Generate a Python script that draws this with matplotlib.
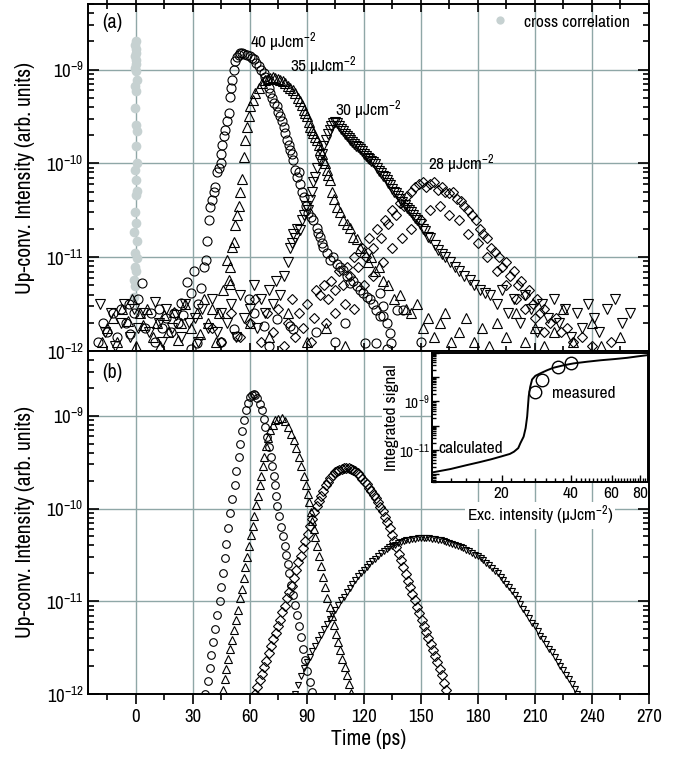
import numpy as np
import matplotlib
matplotlib.use("Agg")
import matplotlib.pyplot as plt
from matplotlib import font_manager
from matplotlib.ticker import FixedLocator, LogLocator, NullFormatter, FixedFormatter

names = {f.name for f in font_manager.fontManager.ttflist}
cands = ['Liberation Sans Narrow', 'Arial Narrow', 'Archivo Narrow', 'PT Sans Narrow',
         'Roboto Condensed', 'Liberation Sans']
FAM = next(c for c in cands if c in names)
plt.rcParams['font.family'] = [FAM, 'DejaVu Sans']
plt.rcParams['mathtext.fontset'] = 'custom'
plt.rcParams['mathtext.rm'] = FAM
plt.rcParams['mathtext.it'] = FAM
plt.rcParams['mathtext.bf'] = FAM

# ---------------- data: (time ps, log10 intensity) ----------------
cross_corr = [(0, -8.70), (-0.3, -8.74), (0, -8.78), (0.3, -8.82), (-0.2, -8.86), (0, -8.90),
              (0.2, -8.94), (-0.3, -8.98), (0, -9.02), (0.5, -9.11), (-0.5, -9.18), (0.3, -9.23),
              (-0.4, -9.41), (0, -9.59), (0.5, -9.66), (0, -9.82), (0.4, -10.0), (-0.5, -10.07),
              (0.3, -10.18), (0.6, -10.29), (0, -10.34), (-0.6, -10.52), (0.3, -10.64),
              (-0.8, -10.73), (0.5, -10.83), (-0.5, -10.96), (0.8, -11.01), (-0.6, -11.10),
              (0.3, -11.15), (-1.0, -11.24), (-0.5, -11.31), (-1.2, -11.42)]

a_40 = [(-20, -11.9), (-17, -11.7), (-15, -11.8), (-12, -11.6), (-10, -11.85), (-8, -11.55),
        (-5.2, -11.70), (-3.5, -11.50), (-3, -11.82), (-1, -11.6), (1, -11.45), (3.5, -11.27),
        (5, -11.75), (8, -11.6), (10, -11.9), (12, -11.55), (14, -11.75), (16, -11.65),
        (18.4, -11.80), (20, -11.6), (22, -11.7), (23.6, -11.49), (25, -11.62), (27.1, -11.26),
        (28.8, -11.38), (28.8, -11.98), (30.6, -11.15), (32.3, -11.91), (33, -11.5), (34.1, -11.33),
        (35.8, -11.10), (36.7, -11.03), (37.6, -10.83), (38.5, -10.60), (39.3, -10.46),
        (40.2, -10.39), (41.0, -10.30), (41.9, -10.25), (42.8, -10.09), (43.7, -10.05),
        (44.6, -10.0), (45.0, -9.90), (45.5, -9.80), (46.3, -9.71), (47.2, -9.64), (48, -9.55),
        (49, -9.46), (49.8, -9.29), (50.2, -9.2), (50.7, -9.11), (51.6, -9.0), (52.4, -8.91),
        (53.2, -8.87), (54.2, -8.84), (55, -8.82), (55.9, -8.82), (57, -8.83), (58.6, -8.84),
        (60, -8.86), (61, -8.88), (62.1, -8.89), (63.5, -8.93), (64.7, -8.96), (66, -9.0),
        (67.3, -9.04), (68.2, -9.08), (69.1, -9.11), (70, -9.2), (70.8, -9.25), (71.6, -9.3),
        (72.6, -9.36), (74.3, -9.39), (75, -9.45), (76.1, -9.50), (77, -9.55), (77.8, -9.61),
        (78.6, -9.68), (79.5, -9.75), (80.4, -9.8), (81.3, -9.86), (82, -9.9), (83, -9.96),
        (83.9, -10.07), (84.8, -10.14), (85.7, -10.09), (86.5, -10.22), (87.4, -10.3),
        (88.3, -10.36), (89.5, -10.45), (90.9, -10.53), (92, -10.57), (93.5, -10.60),
        (95.3, -10.69), (96, -10.74), (97, -10.78), (98, -10.85), (98.8, -10.89), (100.5, -10.96),
        (102.3, -11.03), (104, -11.0), (105.8, -11.07), (107.5, -11.1), (109.3, -11.14),
        (111, -11.2), (112.8, -11.28), (114.5, -11.25), (116.3, -11.31), (118, -11.35),
        (119.8, -11.38), (120.6, -11.91), (121.5, -11.42), (123.3, -11.45), (125, -11.5),
        (126.7, -11.56), (126.7, -11.91), (128.5, -11.38), (128.5, -11.63), (130.2, -11.63),
        (130.3, -11.52), (132, -11.70), (132, -11.98), (133.7, -11.81), (134.6, -11.91),
        (137.3, -11.56), (140.7, -11.56), (51.6, -11.77), (53.3, -11.84), (59.4, -11.45),
        (62, -11.59), (67.3, -11.73), (74.3, -11.66), (81.3, -11.73), (83, -11.77), (45, -11.9),
        (70, -11.95), (95, -11.8), (105, -11.9), (110, -11.7), (150, -11.9)]

a_35 = [(-18, -11.9), (-15, -11.75), (-12, -11.65), (-10, -11.9), (-7, -11.55), (-4, -11.68),
        (-2, -11.45), (0, -11.95), (2, -11.6), (4, -11.72), (6, -11.55), (9, -11.85), (11, -11.7),
        (13, -11.95), (15, -11.62), (17, -11.8), (20, -11.58), (22, -11.88), (24, -11.7),
        (26, -11.5), (29, -11.75), (32, -11.6), (34, -11.82), (36, -11.45), (38, -11.7),
        (40, -11.55), (42, -11.9), (44, -11.6), (46, -11.35), (48.1, -11.03), (49, -11.24),
        (49.8, -11.10), (49.8, -11.29), (50.7, -10.89), (51.6, -10.84), (52.4, -10.66),
        (53.3, -10.55), (54.2, -10.45), (55.1, -10.31), (55.9, -10.17), (56.8, -9.93),
        (57.7, -9.75), (58.6, -9.61), (59.4, -9.50), (60.3, -9.39), (61.5, -9.32), (62.9, -9.25),
        (64.7, -9.20), (66.4, -9.14), (68.2, -9.11), (69.5, -9.10), (70.8, -9.09), (72, -9.08),
        (73.4, -9.09), (74.8, -9.10), (76.1, -9.11), (77.4, -9.12), (78.7, -9.14), (80, -9.17),
        (81.3, -9.20), (82.6, -9.22), (83.9, -9.25), (85.2, -9.3), (86.5, -9.34), (87.4, -9.38),
        (88.3, -9.43), (89.2, -9.46), (90, -9.50), (91, -9.56), (91.8, -9.61), (92.6, -9.64),
        (93.5, -9.68), (94.4, -9.72), (95.3, -9.75), (96.2, -9.8), (97, -9.86), (98, -9.9),
        (98.8, -9.96), (99.6, -10.0), (100.5, -10.07), (101.4, -10.12), (102.3, -10.18),
        (103.5, -10.3), (104.5, -10.38), (105.8, -10.46), (107.5, -10.52), (109.3, -10.60),
        (111, -10.65), (112.8, -10.69), (114.5, -10.78), (116.3, -10.81), (118, -10.9),
        (120, -10.95), (122, -11.05), (124, -11.0), (126, -11.15), (128, -11.1), (130, -11.25),
        (133, -11.3), (136, -11.45), (139, -11.4), (142, -11.55), (145, -11.6), (148, -11.5),
        (151, -11.75), (154, -11.65), (157, -11.85), (160, -11.7), (163, -11.6), (166, -11.9),
        (170, -11.8), (174, -11.65), (178, -11.9), (182, -11.75), (186, -11.95), (190, -11.7),
        (195, -11.85), (200, -11.6), (205, -11.9), (210, -11.75), (215, -11.95), (220, -11.8),
        (225, -11.55), (230, -11.9), (240, -11.7), (245, -11.95), (255, -11.85), (60, -11.7),
        (70, -11.85), (80, -11.6), (90, -11.9), (100, -11.75), (110, -11.95)]

a_30 = [(-19, -11.5), (-16, -11.8), (-13, -11.6), (-11, -11.95), (-8, -11.7), (-6, -11.5),
        (-3, -11.85), (-1, -11.55), (1, -11.75), (4, -11.6), (7, -11.8), (10, -11.48), (12, -11.7),
        (14, -11.9), (16, -11.55), (19, -11.75), (21, -11.62), (24, -11.85), (26, -11.5),
        (28, -11.7), (31, -11.65), (33, -11.9), (35, -11.55), (38, -11.75), (40, -11.45),
        (43, -11.8), (45, -11.6), (48, -11.7), (50, -11.5), (53, -11.85), (55, -11.4),
        (57, -11.65), (60, -11.55), (62, -11.3), (64, -11.75), (66, -11.45), (68, -11.6),
        (70, -11.35), (72, -11.5), (74, -11.25), (76, -11.4), (78, -11.2), (80, -11.05),
        (81, -10.9), (82, -10.85), (83, -10.75), (84, -10.8), (85, -10.7), (86.4, -10.71),
        (87.5, -10.6), (88.5, -10.55), (89.5, -10.45), (90.5, -10.5), (91.6, -10.39),
        (92.5, -10.3), (93.5, -10.2), (94.5, -10.15), (95.5, -10.05), (96.9, -9.96), (97.8, -9.9),
        (98.8, -9.82), (100, -9.75), (101, -9.69), (102, -9.64), (103, -9.6), (104, -9.57),
        (104.8, -9.56), (105.8, -9.57), (106.8, -9.6), (108, -9.63), (109, -9.66), (110, -9.69),
        (111, -9.71), (112, -9.73), (113, -9.75), (114, -9.77), (115, -9.79), (116, -9.81),
        (117, -9.83), (117.9, -9.85), (119, -9.87), (120, -9.9), (121, -9.92), (122, -9.94),
        (123, -9.95), (124, -9.97), (125, -9.99), (125.9, -10.01), (127, -10.05), (128, -10.08),
        (129, -10.1), (130, -10.13), (131, -10.15), (132, -10.18), (133, -10.21), (133.8, -10.23),
        (135, -10.27), (136, -10.3), (137, -10.32), (138, -10.35), (139, -10.38), (140, -10.41),
        (141.6, -10.44), (143, -10.48), (144, -10.5), (145, -10.52), (146, -10.55), (147, -10.58),
        (148, -10.6), (149.6, -10.65), (151, -10.7), (152, -10.72), (154, -10.78), (155, -10.8),
        (157.5, -10.87), (159, -10.92), (161, -10.97), (163, -11.0), (165.3, -11.05), (168, -11.1),
        (170, -11.15), (173, -11.2), (175.9, -11.24), (178, -11.3), (181, -11.35), (184, -11.38),
        (186.4, -11.40), (190, -11.5), (193, -11.35), (196, -11.6), (199, -11.45), (202, -11.7),
        (205, -11.4), (208, -11.55), (211, -11.8), (214, -11.5), (217, -11.65), (220, -11.45),
        (223, -11.7), (226, -11.55), (229, -11.85), (232, -11.6), (235, -11.75), (238, -11.5),
        (241, -11.65), (244, -11.8), (248, -11.55), (252, -11.45), (256, -11.7), (260, -11.6)]

a_28 = [(40, -11.75), (45, -11.9), (50, -11.6), (55, -11.85), (60, -11.7), (63, -11.45), (66, -11.9),
        (69, -11.6), (72, -11.8), (75, -11.55), (78, -11.95), (80, -11.7), (82, -11.45), (84, -11.85),
        (86, -11.6), (88, -11.75), (90, -11.5), (92, -11.9), (94, -11.65), (95, -11.35), (97, -11.4),
        (99, -11.3), (101, -11.45), (103, -11.25), (105, -11.35), (107, -11.15), (109, -11.3),
        (111, -11.1), (113, -11.2), (115, -11.0), (117, -11.1), (119, -10.9), (121, -11.0),
        (123, -10.8), (125, -10.9), (127, -10.7), (129, -10.8), (131, -10.6), (133, -10.65),
        (135, -10.5), (137, -10.55), (139, -10.42), (141, -10.45), (143, -10.35), (145, -10.3),
        (147, -10.25), (149, -10.22), (151, -10.2), (153, -10.25), (155, -10.22), (157, -10.2),
        (159, -10.28), (161, -10.25), (163, -10.3), (165, -10.32), (167, -10.3), (169, -10.38),
        (171, -10.4), (173, -10.45), (175, -10.5), (177, -10.55), (179, -10.6), (181, -10.7),
        (183, -10.75), (185, -10.8), (187, -10.9), (189, -10.95), (191, -11.0), (193, -11.1),
        (195, -11.05), (197, -11.2), (199, -11.15), (201, -11.3), (203, -11.25), (205, -11.4),
        (207, -11.35), (209, -11.5), (211, -11.45), (213, -11.6), (215, -11.55), (218, -11.7),
        (221, -11.65), (224, -11.8), (227, -11.75), (230, -11.9), (235, -11.85), (240, -11.95),
        (250, -11.9), (100, -11.7), (105, -11.6), (110, -11.5), (115, -11.55), (120, -11.3),
        (125, -11.2), (130, -11.05), (135, -10.9), (140, -10.8), (145, -10.7), (150, -10.6),
        (155, -10.5), (160, -10.45), (165, -10.55), (170, -10.6), (175, -10.75), (180, -10.85),
        (185, -11.0), (190, -11.15), (195, -11.3), (200, -11.45), (205, -11.55), (210, -11.65),
        (215, -11.8)]

b_40 = [(36.6, -12.00), (37.8, -11.86), (39.0, -11.72), (39.8, -11.58), (40.8, -11.44),
        (41.9, -11.30), (42.9, -11.15), (44.1, -11.00), (44.9, -10.85), (45.7, -10.69),
        (46.7, -10.53), (47.5, -10.38), (48.5, -10.21), (49.5, -10.05), (50.7, -9.90),
        (52.0, -9.75), (53.0, -9.59), (54.1, -9.44), (55.1, -9.30), (56.0, -9.16), (56.9, -9.04),
        (57.9, -8.94), (59.0, -8.86), (60.3, -8.80), (61.2, -8.78), (62.1, -8.77), (63.0, -8.78),
        (63.8, -8.81), (65.2, -8.87), (66.5, -8.94), (67.3, -9.03), (68.2, -9.12), (69.1, -9.23),
        (70.3, -9.34), (71.0, -9.44), (71.9, -9.54), (72.5, -9.65), (73.1, -9.75), (73.8, -9.87),
        (74.5, -9.97), (75.3, -10.08), (76.2, -10.20), (77.5, -10.30), (78.5, -10.40),
        (79.3, -10.50), (80.1, -10.60), (80.9, -10.70), (81.8, -10.82), (82.8, -10.93),
        (83.8, -11.04), (84.8, -11.15), (85.8, -11.27), (86.8, -11.39), (87.8, -11.51),
        (88.9, -11.63), (90.1, -11.75), (91.5, -11.87), (93.0, -11.98)]

b_35 = [(45.7, -11.96), (46.7, -11.84), (47.7, -11.73), (48.7, -11.62), (49.7, -11.52),
        (50.7, -11.42), (51.7, -11.31), (52.7, -11.20), (53.7, -11.09), (54.7, -10.97),
        (55.7, -10.87), (56.7, -10.75), (57.7, -10.63), (58.8, -10.52), (59.8, -10.40),
        (60.8, -10.29), (61.7, -10.19), (62.4, -10.08), (63.3, -9.96), (64.4, -9.87), (65.2, -9.75),
        (66.1, -9.65), (67.0, -9.54), (67.6, -9.44), (68.5, -9.33), (69.5, -9.24), (70.7, -9.15),
        (72.1, -9.10), (73.3, -9.05), (75.1, -9.03), (76.8, -9.02), (78.6, -9.06), (80.3, -9.12),
        (81.8, -9.20), (83.4, -9.26), (84.4, -9.35), (85.7, -9.44), (86.9, -9.54), (88.3, -9.65),
        (89.5, -9.75), (90.4, -9.84), (91.3, -9.93), (92.1, -10.04), (92.8, -10.13),
        (93.6, -10.22), (94.6, -10.31), (95.6, -10.40), (96.6, -10.51), (97.6, -10.62),
        (98.6, -10.74), (99.6, -10.85), (100.8, -10.96), (102.0, -11.06), (103.2, -11.16),
        (104.4, -11.26), (105.5, -11.35), (106.6, -11.44), (107.7, -11.53), (108.8, -11.62),
        (109.9, -11.71), (111.0, -11.80), (112.2, -11.89), (113.5, -11.99)]

b_30 = [(62.8, -12.00), (64.0, -11.92), (65.2, -11.85), (66.4, -11.78), (67.6, -11.71),
        (68.8, -11.64), (70.0, -11.56), (71.2, -11.48), (72.4, -11.41), (73.6, -11.34),
        (74.8, -11.27), (76.0, -11.20), (77.2, -11.12), (78.4, -11.05), (79.6, -10.97),
        (80.8, -10.90), (82.0, -10.83), (83.2, -10.75), (84.4, -10.66), (85.6, -10.58),
        (86.8, -10.51), (88.0, -10.43), (89.2, -10.35), (90.4, -10.27), (91.6, -10.19),
        (92.8, -10.11), (94.0, -10.04), (95.2, -9.97), (96.4, -9.92), (97.6, -9.86), (98.8, -9.81),
        (100.0, -9.75), (101.2, -9.71), (102.4, -9.67), (103.6, -9.64), (104.8, -9.61),
        (106.0, -9.59), (107.2, -9.58), (108.4, -9.57), (109.6, -9.56), (110.8, -9.56),
        (112.0, -9.56), (113.2, -9.57), (114.4, -9.58), (115.6, -9.60), (116.8, -9.62),
        (118.0, -9.65), (119.2, -9.68), (120.4, -9.71), (121.6, -9.74), (122.8, -9.78),
        (124.0, -9.81), (125.2, -9.85), (126.4, -9.89), (127.6, -9.93), (128.8, -9.98),
        (130.0, -10.03), (131.2, -10.09), (132.4, -10.15), (133.6, -10.21), (134.8, -10.28),
        (136.0, -10.35), (137.2, -10.42), (138.4, -10.49), (139.6, -10.56), (140.8, -10.63),
        (142.0, -10.71), (143.2, -10.78), (144.4, -10.85), (145.6, -10.92), (146.8, -10.99),
        (148.0, -11.06), (149.2, -11.13), (150.4, -11.20), (151.6, -11.27), (152.8, -11.33),
        (154.0, -11.40), (155.2, -11.46), (156.4, -11.53), (157.6, -11.59), (158.8, -11.66),
        (160.0, -11.73), (161.2, -11.80), (162.4, -11.88), (163.4, -11.96)]

b_28 = [(84.0, -12.00), (85.5, -11.90), (87.0, -11.81), (88.5, -11.72), (90.0, -11.66),
        (91.5, -11.60), (93.0, -11.54), (94.5, -11.48), (96.0, -11.42), (97.5, -11.36),
        (99.0, -11.30), (100.5, -11.25), (102.0, -11.19), (103.5, -11.14), (105.0, -11.09),
        (106.5, -11.04), (108.0, -10.99), (109.5, -10.95), (111.0, -10.90), (112.5, -10.86),
        (114.0, -10.81), (115.5, -10.77), (117.0, -10.73), (118.5, -10.70), (120.0, -10.66),
        (121.5, -10.63), (123.0, -10.60), (124.5, -10.57), (126.0, -10.54), (127.5, -10.51),
        (129.0, -10.48), (130.5, -10.46), (132.0, -10.44), (133.5, -10.42), (135.0, -10.40),
        (136.5, -10.39), (138.0, -10.37), (139.5, -10.36), (141.0, -10.35), (142.5, -10.34),
        (144.0, -10.34), (145.5, -10.33), (147.0, -10.33), (148.5, -10.32), (150.0, -10.32),
        (151.5, -10.32), (153.0, -10.32), (154.5, -10.32), (156.0, -10.33), (157.5, -10.33),
        (159.0, -10.34), (160.5, -10.34), (162.0, -10.35), (163.5, -10.36), (165.0, -10.37),
        (166.5, -10.38), (168.0, -10.39), (169.5, -10.40), (171.0, -10.42), (172.5, -10.43),
        (174.0, -10.45), (175.5, -10.46), (177.0, -10.48), (178.5, -10.50), (180.0, -10.51),
        (181.5, -10.53), (183.0, -10.56), (184.5, -10.59), (186.0, -10.61), (187.5, -10.64),
        (189.0, -10.67), (190.5, -10.70), (192.0, -10.74), (193.5, -10.77), (195.0, -10.81),
        (196.5, -10.85), (198.0, -10.89), (199.5, -10.93), (201.0, -10.98), (202.5, -11.03),
        (204.0, -11.08), (205.5, -11.13), (207.0, -11.18), (208.5, -11.23), (210.0, -11.27),
        (211.5, -11.32), (213.0, -11.37), (214.5, -11.41), (216.0, -11.46), (217.5, -11.51),
        (219.0, -11.55), (220.5, -11.60), (222.0, -11.65), (223.5, -11.70), (225.0, -11.74),
        (226.5, -11.79), (228.0, -11.84), (229.5, -11.89), (231.0, -11.95), (232.2, -12.00)]

# inset: excitation intensity (uJ/cm2) vs log10 integrated signal
inset_calc = [(10, -11.92), (12, -11.78), (14.1, -11.62), (16, -11.5), (18, -11.38), (19.8, -11.27),
              (21.7, -11.16), (22.6, -11.07), (23.6, -10.92), (24.1, -10.72), (24.9, -10.45),
              (25.4, -10.1), (25.8, -9.62), (26.2, -8.79), (26.6, -8.4), (27.1, -8.1), (28, -7.95),
              (29.7, -7.83), (31.5, -7.72), (33.5, -7.62), (37, -7.52), (41, -7.44), (47, -7.37),
              (53.8, -7.31), (62, -7.26), (70, -7.21), (78, -7.15), (86, -7.1)]
inset_meas = [(28, -8.63), (30, -8.13), (35, -7.58), (40, -7.44)]

labels_a = ["40 µJcm$^{-2}$", "35 µJcm$^{-2}$", "30 µJcm$^{-2}$", "28 µJcm$^{-2}$"]
xticks_main = [0, 30, 60, 90, 120, 150, 180, 210, 240, 270]


def xy(series):
    arr = np.array(series, dtype=float)
    return arr[:, 0], 10.0 ** arr[:, 1]


# ---------------- figure ----------------
W, H = 696, 760
fig = plt.figure(figsize=(W / 100, H / 100), dpi=100)
L, R = 88.3, 648.7
ax1 = fig.add_axes([L / W, 1 - 351 / H, (R - L) / W, (351 - 4) / H])
ax2 = fig.add_axes([L / W, 1 - 694 / H, (R - L) / W, (694 - 351) / H])

GRID = '#8fa7a7'
for ax in (ax1, ax2):
    ax.set_yscale('log')
    ax.set_xlim(-25, 270)
    ax.set_ylim(1e-12, 5e-9)
    ax.xaxis.set_major_locator(FixedLocator(xticks_main))
    ax.xaxis.set_minor_locator(FixedLocator(np.arange(-15, 270, 30)))
    ax.yaxis.set_major_locator(LogLocator(base=10, numticks=20))
    ax.yaxis.set_minor_locator(LogLocator(base=10, subs=np.arange(2, 10), numticks=20))
    ax.yaxis.set_minor_formatter(NullFormatter())
    ax.grid(True, which='major', color=GRID, lw=1.0, zorder=0)
    ax.set_axisbelow(True)
    for s in ax.spines.values():
        s.set_linewidth(1.4)
    ax.tick_params(axis='y', which='both', direction='in', left=True, right=True,
                   labelsize=13.5, width=1.2)
    ax.tick_params(axis='y', which='major', length=8)
    ax.tick_params(axis='y', which='minor', length=4)
    ax.set_ylabel('Up-conv. Intensity (arb. units)', fontsize=15.5, labelpad=8)

ax1.tick_params(axis='x', which='both', direction='inout', bottom=True, top=True,
                labelbottom=False, width=1.2)
ax1.tick_params(axis='x', which='major', length=12)
ax1.tick_params(axis='x', which='minor', length=7)
ax2.tick_params(axis='x', which='both', direction='out', top=False, labelsize=13.5, width=1.2)
ax2.tick_params(axis='x', which='major', length=7)
ax2.tick_params(axis='x', which='minor', length=4)
ax2.set_xlabel('Time (ps)', fontsize=15.5, labelpad=3)

# ---- panel (a)
mk = dict(ls='none', mfc='none', mec='black', mew=0.8, zorder=3)
t, y = xy(cross_corr)
ax1.plot(t, y, 'o', color='#c6d1d1', ms=7, mec='none', zorder=2, label='cross correlation')
t, y = xy(a_28); ax1.plot(t, y, 'D', ms=5.2, **mk)
t, y = xy(a_30); ax1.plot(t, y, 'v', ms=6.5, **mk)
t, y = xy(a_35); ax1.plot(t, y, '^', ms=6.5, **mk)
t, y = xy(a_40); ax1.plot(t, y, 'o', ms=6.5, **mk)

ax1.legend(loc='upper right', frameon=False, fontsize=12.5, handletextpad=0.9,
           borderaxespad=0.2, markerscale=0.85, handlelength=1.0,
           bbox_to_anchor=(0.985, 1.0))
ax1.text(0.025, 0.975, '(a)', transform=ax1.transAxes, fontsize=14.5, va='top', ha='left')
ax1.text(60, 1.95e-9, labels_a[0], fontsize=12.5, va='center', ha='left')
ax1.text(81, 1.08e-9, labels_a[1], fontsize=12.5, va='center', ha='left')
ax1.text(104.8, 3.7e-10, labels_a[2], fontsize=12.5, va='center', ha='left')
ax1.text(153.8, 9.7e-11, labels_a[3], fontsize=12.5, va='center', ha='left')

# ---- panel (b)
t, y = xy(b_28); ax2.plot(t, y, 'v', ms=5.0, **mk)
t, y = xy(b_30); ax2.plot(t, y, 'D', ms=4.6, **mk)
t, y = xy(b_35); ax2.plot(t, y, '^', ms=5.5, **mk)
t, y = xy(b_40); ax2.plot(t, y, 'o', ms=5.5, **mk)
ax2.text(0.025, 0.965, '(b)', transform=ax2.transAxes, fontsize=14.5, va='top', ha='left')

# ---- inset
IL, IR, IT, IB = 432.3, 647.7, 352.7, 481.7
axi = fig.add_axes([IL / W, 1 - IB / H, (IR - IL) / W, (IB - IT) / H])
axi.set_facecolor('white')
axi.set_xscale('log')
axi.set_yscale('log')
axi.set_xlim(10, 86)
axi.set_ylim(5e-13, 1e-7)
x, y = xy(inset_calc)
axi.plot(x, y, '-', color='black', lw=1.4, zorder=3)
x, y = xy(inset_meas)
axi.plot(x, y, 'o', ms=9, mfc='none', mec='black', mew=1.0, zorder=4)
axi.xaxis.set_major_locator(FixedLocator([20, 40, 60, 80]))
axi.xaxis.set_major_formatter(FixedFormatter(['20', '40', '60', '80']))
axi.xaxis.set_minor_locator(FixedLocator(list(range(12, 20, 2)) + list(range(22, 40, 3))
                                         + list(range(42, 86, 2))))
axi.xaxis.set_minor_formatter(NullFormatter())
axi.yaxis.set_major_locator(FixedLocator([1e-12, 1e-11, 1e-10, 1e-9, 1e-8, 1e-7]))
axi.yaxis.set_major_formatter(FixedFormatter(['', '$10^{-11}$', '', '$10^{-9}$', '', '']))
axi.yaxis.set_minor_locator(LogLocator(base=10, subs=np.arange(2, 10), numticks=20))
axi.yaxis.set_minor_formatter(NullFormatter())
axi.tick_params(axis='x', which='both', direction='in', labelsize=12.5, width=1.0, pad=3)
axi.tick_params(axis='y', which='both', direction='in', labelsize=11, width=1.0, pad=2)
axi.tick_params(axis='both', which='major', length=5)
axi.tick_params(axis='both', which='minor', length=3)
for s in axi.spines.values():
    s.set_linewidth(1.4)
axi.set_xlabel('Exc. intensity (µJcm$^{-2}$)', fontsize=12.5, labelpad=2,
               bbox=dict(facecolor='white', edgecolor='none', pad=1))
axi.set_ylabel('Integrated signal', fontsize=12.5, labelpad=0,
               bbox=dict(facecolor='white', edgecolor='none', pad=1))
axi.text(10.6, 1.2e-11, 'calculated', fontsize=12.5, ha='left', va='center')
axi.text(33, 2.2e-9, 'measured', fontsize=12.5, ha='left', va='center')

fig.savefig('out.png', dpi=100)
